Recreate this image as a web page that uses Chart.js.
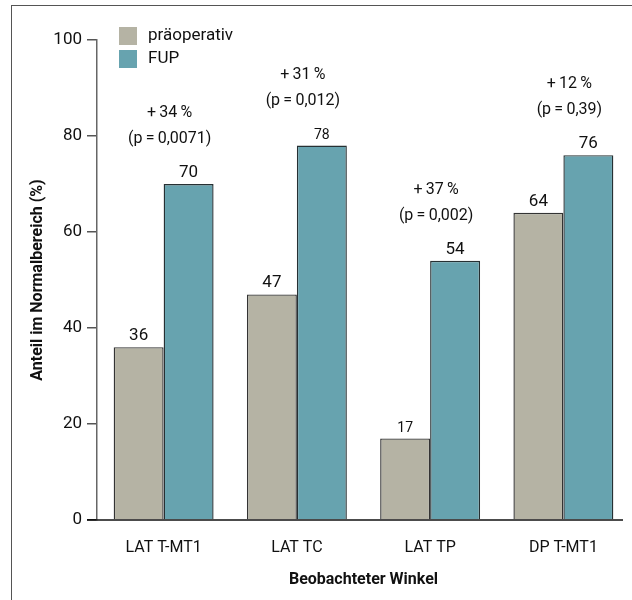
<!DOCTYPE html>
<html>
<head>
<meta charset="utf-8">
<script src="https://cdn.jsdelivr.net/npm/chart.js@4"></script>
<style>
  html, body { margin: 0; padding: 0; background: #fff; }
  #wrap { position: relative; width: 632px; height: 600px; }
  #frame { position: absolute; left: 11px; top: 5px; right: 0; bottom: 0;
           border-top: 1.5px solid #555; border-left: 1.5px solid #555; pointer-events: none; }
</style>
</head>
<body>
<div id="wrap">
  <canvas id="myChart" width="632" height="600"></canvas>
  <div id="frame"></div>
</div>
<script>
const categories = ['LAT T-MT1', 'LAT TC', 'LAT TP', 'DP T-MT1'];
const seriesNames = ['präoperativ', 'FUP'];
const preOp = [36, 47, 17, 64];
const fup = [70, 78, 54, 76];
const changes = ['+\u200934\u2009%', '+\u200931\u2009%', '+\u200937\u2009%', '+\u200912\u2009%'];
const pValues = ['(p\u2009=\u20090,0071)', '(p\u2009=\u20090,012)', '(p\u2009=\u20090,002)', '(p\u2009=\u20090,39)'];
const yTicks = [0, 20, 40, 60, 80, 100];

const textColor = '#111';
const fontFamily = 'Roboto, "DejaVu Sans", sans-serif';

// value labels, change/p annotations, x axis line and the legend box
const barTexts = {
    id: 'barTexts',
    afterDatasetsDraw(chart) {
        const ctx = chart.ctx;
        const area = chart.chartArea;
        ctx.save();

        // x axis line, stops a little short of the right edge
        ctx.strokeStyle = '#111';
        ctx.lineWidth = 1.5;
        ctx.beginPath();
        ctx.moveTo(area.left - 10, area.bottom);
        ctx.lineTo(area.right - 7, area.bottom);
        ctx.stroke();

        ctx.fillStyle = textColor;
        ctx.textAlign = 'center';
        ctx.textBaseline = 'bottom';
        chart.data.datasets.forEach((ds, i) => {
            chart.getDatasetMeta(i).data.forEach((bar, j) => {
                // two of the labels are set smaller in the original
                const small = (i === 1 && j === 1) || (i === 0 && j === 2);
                ctx.font = (small ? '14px ' : '17px ') + fontFamily;
                ctx.fillText(ds.data[j], bar.x, bar.y - 3);
            });
        });

        const fupBars = chart.getDatasetMeta(1).data;
        const xs = chart.scales.x;
        ctx.font = '16px ' + fontFamily;
        ctx.textBaseline = 'middle';
        categories.forEach((c, j) => {
            const cx = xs.getPixelForValue(j) + 6;
            const top = fupBars[j].y;
            ctx.fillText(changes[j], cx, top - 71);
            ctx.fillText(pValues[j], cx, top - 45);
        });

        // legend
        const left = area.left + 22;
        ctx.textAlign = 'left';
        ctx.font = '17px ' + fontFamily;
        chart.data.datasets.forEach((ds, i) => {
            const y = 27 + i * 23;
            ctx.fillStyle = ds.backgroundColor;
            ctx.fillRect(left, y, 18, 18);
            ctx.fillStyle = textColor;
            ctx.fillText(ds.label, left + 29, y + 9);
        });
        ctx.restore();
    }
};

const data1 = {
    labels: categories,
    datasets: [{
        label: seriesNames[0],
        data: preOp,
        backgroundColor: '#b5b3a4',
        borderColor: '#333',
        borderWidth: 1.4
    }, {
        label: seriesNames[1],
        data: fup,
        backgroundColor: '#67a3af',
        borderColor: '#263033',
        borderWidth: 1.4
    }]
};

const config = {
    type: 'bar',
    data: data1,
    options: {
        responsive: false,
        animation: false,
        categoryPercentage: 0.75,
        barPercentage: 1.0,
        layout: { padding: { top: 40, right: 2, left: 0, bottom: 0 } },
        plugins: {
            legend: { display: false },
            tooltip: { enabled: false }
        },
        scales: {
            x: {
                grid: { display: false, drawTicks: false },
                border: { display: false },
                ticks: { color: textColor, font: { family: fontFamily, size: 16 }, padding: 18, maxRotation: 0, autoSkip: false },
                title: {
                    display: true,
                    text: 'Beobachteter Winkel',
                    color: textColor,
                    font: { family: fontFamily, size: 16, weight: 'bold' },
                    padding: { top: 0, bottom: 10 }
                },
                afterFit(s) { s.height = 80; }
            },
            y: {
                min: 0,
                max: 100,
                afterBuildTicks(s) { s.ticks = yTicks.map(v => ({ value: v })); },
                ticks: { color: textColor, font: { family: fontFamily, size: 17 }, padding: 5 },
                grid: {
                    drawOnChartArea: false,
                    drawTicks: true,
                    tickLength: 10,
                    lineWidth: 1.5,
                    color: (c) => (c.tick && c.tick.value === 0 ? '#111' : '#555')
                },
                border: { display: true, color: '#666', width: 1.5 },
                title: {
                    display: true,
                    text: 'Anteil im Normalbereich (%)',
                    color: textColor,
                    font: { family: fontFamily, size: 16, weight: 'bold' },
                    padding: { top: 28, bottom: 0 }
                },
                afterFit(s) { s.width = 97; }
            }
        }
    },
    plugins: [barTexts]
};

const myChart = new Chart(document.getElementById('myChart'), config);
</script>
</body>
</html>
